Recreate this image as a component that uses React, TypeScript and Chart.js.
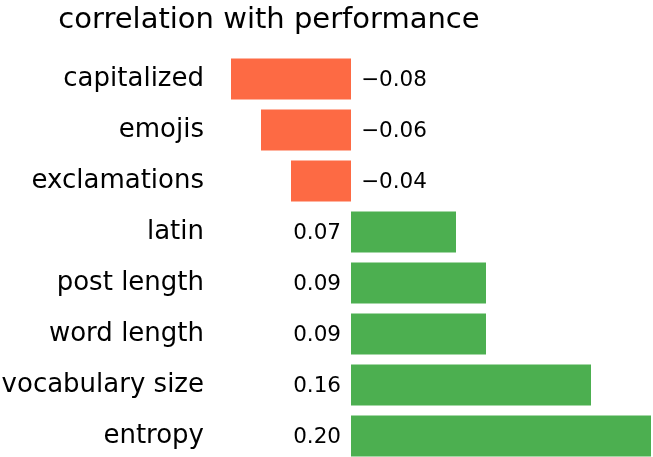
import React, { useEffect, useRef } from "react";
import { Chart, registerables } from "chart.js";

Chart.register(...registerables);

const categories = [
  "capitalized",
  "emojis",
  "exclamations",
  "latin",
  "post length",
  "word length",
  "vocabulary size",
  "entropy",
];
const correlations = [-0.08, -0.06, -0.04, 0.07, 0.09, 0.09, 0.16, 0.2];
const titleText = "correlation with performance";

const NEG = "#fd6a44";
const POS = "#4caf50";
const FONT = "'DejaVu Sans', sans-serif";

const fmt = (v: number) => {
  const s = Math.abs(v).toFixed(2);
  return v < 0 ? "\u2212" + s : s;
};

const overlayPlugin = {
  id: "overlay",
  afterDatasetsDraw(chart: any) {
    const ctx = chart.ctx;
    const xs = chart.scales.x;
    const meta = chart.getDatasetMeta(0);
    const zero = xs.getPixelForValue(0);
    ctx.save();
    ctx.fillStyle = "#000";
    ctx.font = `21.5px ${FONT}`;
    ctx.textBaseline = "middle";
    meta.data.forEach((bar: any, i: number) => {
      const v = correlations[i];
      if (v < 0) {
        ctx.textAlign = "left";
        ctx.fillText(fmt(v), zero + 10, bar.y + 1);
      } else {
        ctx.textAlign = "right";
        ctx.fillText(fmt(v), zero - 10, bar.y + 1);
      }
    });
    ctx.font = `29px ${FONT}`;
    ctx.textAlign = "center";
    ctx.textBaseline = "alphabetic";
    ctx.fillText(titleText, 269, 28);
    ctx.restore();
  },
};

export default function App() {
  const ref = useRef<HTMLCanvasElement>(null);
  useEffect(() => {
    if (!ref.current) return;
    const chart = new Chart(ref.current, {
      type: "bar",
      data: {
        labels: categories,
        datasets: [
          {
            data: correlations,
            backgroundColor: correlations.map((v) => (v < 0 ? NEG : POS)),
            borderWidth: 0,
            barPercentage: 1,
            categoryPercentage: 0.8,
            clip: false as any,
          },
        ],
      },
      options: {
        indexAxis: "y",
        animation: false,
        responsive: false,
        layout: { padding: { top: 79, bottom: 21, left: 0, right: 2 } },
        plugins: {
          legend: { display: false },
          tooltip: { enabled: false },
          title: { display: false },
        },
        scales: {
          x: { type: "linear", min: -0.08, max: 0.2, display: false },
          y: {
            type: "category",
            offset: false,
            grid: { display: false, drawTicks: false },
            border: { display: false },
            ticks: { font: { family: FONT, size: 26 }, color: "#000", padding: 27 },
            afterFit: (scale: any) => {
              scale.width = 231;
              scale.paddingTop = 0;
              scale.paddingBottom = 0;
            },
          },
        },
      },
      plugins: [overlayPlugin],
    });
    return () => chart.destroy();
  }, []);
  return (
    <div style={{ position: "fixed", left: 0, top: 0, width: 653, height: 457, background: "#fff" }}>
      <canvas ref={ref} width={653} height={457} style={{ display: "block" }} />
    </div>
  );
}
